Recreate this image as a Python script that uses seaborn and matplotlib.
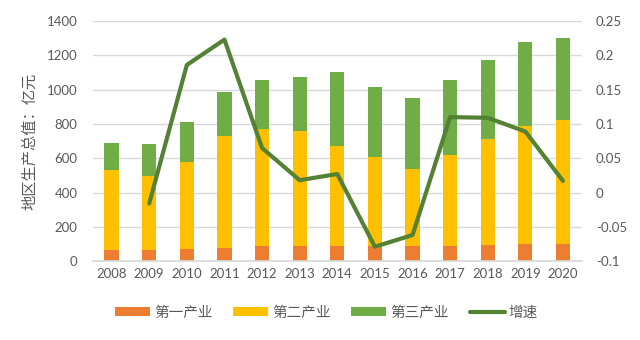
import numpy as np
import pandas as pd
import matplotlib
matplotlib.use("Agg")
import matplotlib.pyplot as plt
import seaborn as sns
from matplotlib.patches import Patch
from matplotlib.lines import Line2D
from matplotlib.ticker import FuncFormatter

years = ["2008", "2009", "2010", "2011", "2012", "2013", "2014",
         "2015", "2016", "2017", "2018", "2019", "2020"]
primary = [64, 64, 70, 78, 87, 87, 87, 87, 87, 87, 95, 101, 101]
secondary = [470, 433, 511, 652, 682, 670, 583, 521, 451, 530, 618, 687, 720]
tertiary = [157, 185, 229, 258, 285, 315, 433, 408, 413, 441, 458, 492, 482]
growth = [np.nan, -0.016, 0.186, 0.223, 0.065, 0.018, 0.027,
          -0.079, -0.062, 0.110, 0.109, 0.089, 0.017]
series_names = ["第一产业", "第二产业", "第三产业", "增速"]
y_label = "地区生产总值：亿元"

c_orange = "#ED7D31"
c_yellow = "#FFC000"
c_green = "#70AD47"
c_line = "#548235"
txt = "#595959"

sns.set_theme(style="white")
plt.rcParams["font.family"] = ["Lato", "Noto Sans CJK SC", "DejaVu Sans"]

df = pd.DataFrame({"year": years, "p": primary, "s": secondary, "t": tertiary, "g": growth})
df["ps"] = df["p"] + df["s"]
df["pst"] = df["ps"] + df["t"]
df["idx"] = np.arange(len(years))

fig = plt.figure(figsize=(6.4, 3.4), dpi=100)
ax = fig.add_axes([0.145, 0.232, 0.764, 0.706])

bw = 0.38
sns.barplot(data=df, x="year", y="pst", color=c_green, width=bw, linewidth=0, saturation=1, ax=ax)
sns.barplot(data=df, x="year", y="ps", color=c_yellow, width=bw, linewidth=0, saturation=1, ax=ax)
sns.barplot(data=df, x="year", y="p", color=c_orange, width=bw, linewidth=0, saturation=1, ax=ax)

ax.set_ylim(0, 1400)
ax.set_yticks(np.arange(0, 1401, 200))
ax.set_xlim(-0.5, len(years) - 0.5)
ax.yaxis.grid(True, color="#D9D9D9", linewidth=1)
ax.set_axisbelow(True)
for s in ax.spines.values():
    s.set_visible(False)
ax.spines["bottom"].set_visible(True)
ax.spines["bottom"].set_color("#D9D9D9")
ax.set_xlabel("")
ax.set_ylabel(y_label, fontsize=11, color=txt, labelpad=7)
ax.tick_params(axis="x", colors=txt, labelsize=9.5, length=0, pad=5)
ax.tick_params(axis="y", colors=txt, labelsize=9.5, length=0, pad=11)

ax2 = ax.twinx()
sns.lineplot(data=df.dropna(), x="idx", y="g", color=c_line, linewidth=3, ax=ax2)
ax2.set_ylim(-0.1, 0.25)
ax2.set_yticks(np.arange(-0.1, 0.2501, 0.05))
ax2.yaxis.set_major_formatter(FuncFormatter(lambda v, p: "{:g}".format(round(v, 2))))
ax2.set_ylabel("")
ax2.set_xlabel("")
ax2.set_xlim(-0.5, len(years) - 0.5)
for s in ax2.spines.values():
    s.set_visible(False)
ax2.tick_params(axis="y", colors=txt, labelsize=9.5, length=0, pad=10)

handles = [Patch(facecolor=c_orange, edgecolor="none"),
           Patch(facecolor=c_yellow, edgecolor="none"),
           Patch(facecolor=c_green, edgecolor="none"),
           Line2D([0], [0], color=c_line, linewidth=3)]
leg = fig.legend(handles, series_names, loc="center", bbox_to_anchor=(0.51, 0.08), ncol=4,
                 frameon=False, fontsize=10.5, handlelength=2.4, handleheight=0.5,
                 columnspacing=1.4, handletextpad=0.3)
for t in leg.get_texts():
    t.set_color(txt)

fig.savefig("out.png", dpi=100)
